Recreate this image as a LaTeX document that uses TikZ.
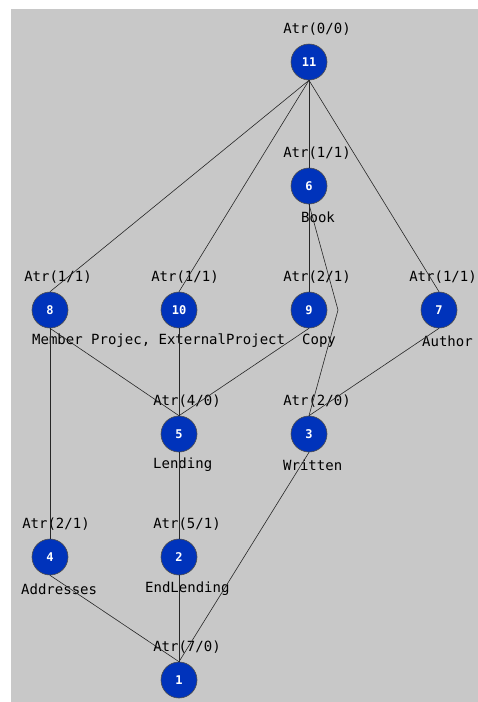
\documentclass[tikz,border=0pt]{standalone}
\usepackage{fontspec}
\usepackage{tikz}
\usetikzlibrary{calc}
\newfontfamily\pixfont{DejaVu Sans Mono}
\definecolor{latbg}{HTML}{C8C8C8}
\definecolor{latblue}{HTML}{0033BB}
\definecolor{latline}{HTML}{262626}

\begin{document}
\begin{tikzpicture}[
  x=1pt, y=-1pt,
  concept/.style={circle, draw=black!70, line width=0.6pt, fill=latblue,
                  minimum size=36pt, inner sep=0pt, text=white,
                  font=\pixfont\bfseries\fontsize{12}{12}\selectfont},
  atr/.style={inner sep=0pt, font=\pixfont\fontsize{14}{14}\selectfont},
  obj/.style={atr, anchor=west},
  edge/.style={draw=latline, line width=0.6pt}
]
\useasboundingbox (0,0) rectangle (478,702);
\fill[latbg] (11,9) rectangle (478,702);

\node[concept] (n11) at (309,62) {11};
\node[concept] (n6) at (309,186) {6};
\node[concept] (n8) at (50,310) {8};
\node[concept] (n10) at (179,310) {10};
\node[concept] (n9) at (309,310) {9};
\node[concept] (n7) at (439,310) {7};
\node[concept] (n5) at (179,434) {5};
\node[concept] (n3) at (309,434) {3};
\node[concept] (n4) at (50,557) {4};
\node[concept] (n2) at (179,557) {2};
\node[concept] (n1) at (179,680) {1};

\node[atr] (a11) at ($(n11)+(8,-33)$) {Atr(0/0)};
\node[atr] (a6) at ($(n6)+(8,-33)$) {Atr(1/1)};
\node[atr] (a8) at ($(n8)+(8,-33)$) {Atr(1/1)};
\node[atr] (a10) at ($(n10)+(6,-33)$) {Atr(1/1)};
\node[atr] (a9) at ($(n9)+(8,-33)$) {Atr(2/1)};
\node[atr] (a7) at ($(n7)+(4,-33)$) {Atr(1/1)};
\node[atr] (a5) at ($(n5)+(8,-33)$) {Atr(4/0)};
\node[atr] (a3) at ($(n3)+(8,-33)$) {Atr(2/0)};
\node[atr] (a4) at ($(n4)+(6,-33)$) {Atr(2/1)};
\node[atr] (a2) at ($(n2)+(8,-33)$) {Atr(5/1)};
\node[atr] (a1) at ($(n1)+(8,-33)$) {Atr(7/0)};

\node[obj] (o6) at (301,217) {Book};
\node[obj] (o8) at (32,341) {Member Projec, ExternalProject};
\node[obj] (o9) at (302,341) {Copy};
\node[obj] (o7) at (422,341) {Author};
\node[obj] (o5) at (153,465) {Lending};
\node[obj] (o3) at (283,465) {Written};
\node[obj] (o4) at (21,589) {Addresses};
\node[obj] (o2) at (145,589) {EndLending};

\coordinate (b63) at (338,310);

\draw[edge] (n11.south) -- (n8.north);
\draw[edge] (n11.south) -- (n10.north);
\draw[edge] (n11.south) -- (n6.north);
\draw[edge] (n11.south) -- (n7.north);
\draw[edge] (n6.south) -- (n9.north);
\draw[edge] (n6.south) -- (b63) -- (n3.north);
\draw[edge] (n8.south) -- (n4.north);
\draw[edge] (n8.south) -- (n5.north);
\draw[edge] (n10.south) -- (n5.north);
\draw[edge] (n9.south) -- (n5.north);
\draw[edge] (n7.south) -- (n3.north);
\draw[edge] (n5.south) -- (n2.north);
\draw[edge] (n4.south) -- (n1.north);
\draw[edge] (n2.south) -- (n1.north);
\draw[edge] (n3.south) -- (n1.north);
\end{tikzpicture}
\end{document}
